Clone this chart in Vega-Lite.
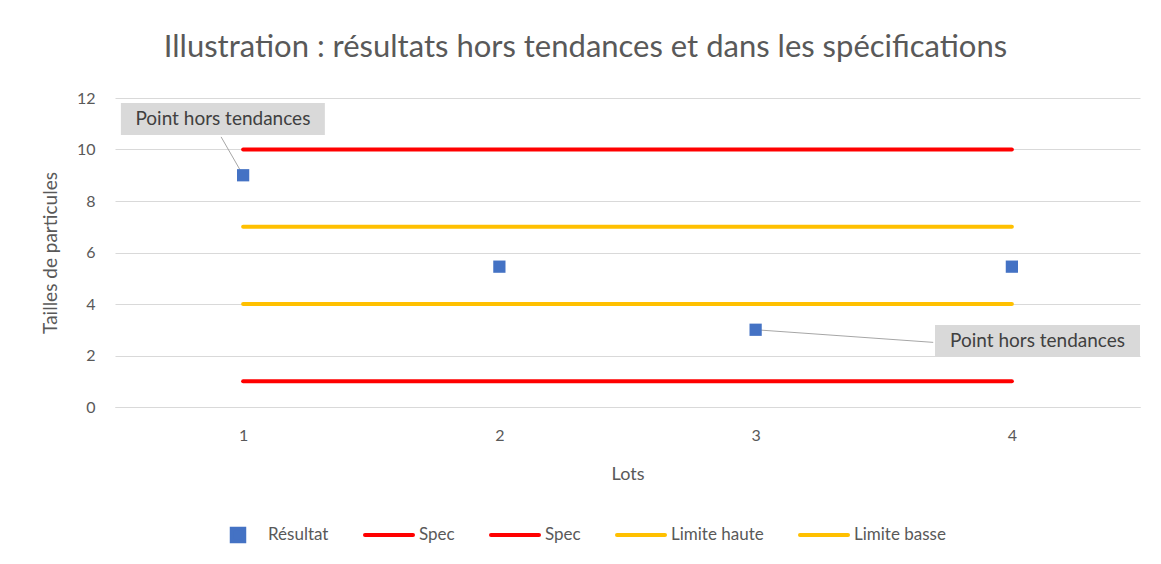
{
  "$schema": "https://vega.github.io/schema/vega-lite/v6.json",
  "width": 1025,
  "height": 309,
  "autosize": "none",
  "padding": {"left": 115, "top": 98, "right": 21, "bottom": 157},
  "background": "white",
  "title": {
    "text": "Illustration : résultats hors tendances et dans les spécifications",
    "font": "Lato",
    "fontSize": 31,
    "fontWeight": "normal",
    "color": "#595959",
    "anchor": "middle",
    "dx": -42,
    "offset": 26
  },
  "datasets": {
    "series": [
      {"lot": 1, "series": "Résultat", "value": 9},
      {"lot": 2, "series": "Résultat", "value": 5.45},
      {"lot": 3, "series": "Résultat", "value": 3},
      {"lot": 4, "series": "Résultat", "value": 5.45},
      {"lot": 1, "series": "Spec sup", "value": 10},
      {"lot": 2, "series": "Spec sup", "value": 10},
      {"lot": 3, "series": "Spec sup", "value": 10},
      {"lot": 4, "series": "Spec sup", "value": 10},
      {"lot": 1, "series": "Spec inf", "value": 1},
      {"lot": 2, "series": "Spec inf", "value": 1},
      {"lot": 3, "series": "Spec inf", "value": 1},
      {"lot": 4, "series": "Spec inf", "value": 1},
      {"lot": 1, "series": "Limite haute", "value": 7},
      {"lot": 2, "series": "Limite haute", "value": 7},
      {"lot": 3, "series": "Limite haute", "value": 7},
      {"lot": 4, "series": "Limite haute", "value": 7},
      {"lot": 1, "series": "Limite basse", "value": 4},
      {"lot": 2, "series": "Limite basse", "value": 4},
      {"lot": 3, "series": "Limite basse", "value": 4},
      {"lot": 4, "series": "Limite basse", "value": 4}
    ],
    "annotations": [
      {"label": "Point hors tendances", "bx1": 0.523, "bx2": 1.319, "by1": 10.56, "by2": 11.81, "tx": 0.921, "ty": 11.18, "lx1": 0.914, "ly1": 10.49, "lx2": 1.0, "ly2": 9.0},
      {"label": "Point hors tendances", "bx1": 3.70, "bx2": 4.5, "by1": 1.94, "by2": 3.18, "tx": 4.10, "ty": 2.56, "lx1": 3.0, "ly1": 3.0, "lx2": 3.693, "ly2": 2.51}
    ]
  },
  "layer": [
    {
      "data": {"name": "annotations"},
      "mark": {"type": "rect", "color": "#d9d9d9"},
      "encoding": {
        "x": {"field": "bx1", "type": "quantitative", "title": "Lots"},
        "x2": {"field": "bx2"},
        "y": {"field": "by1", "type": "quantitative", "title": "Tailles de particules"},
        "y2": {"field": "by2"}
      }
    },
    {
      "data": {"name": "annotations"},
      "mark": {"type": "rule", "color": "#a6a6a6", "strokeWidth": 1},
      "encoding": {
        "x": {"field": "lx1", "type": "quantitative", "title": "Lots"},
        "x2": {"field": "lx2"},
        "y": {"field": "ly1", "type": "quantitative", "title": "Tailles de particules"},
        "y2": {"field": "ly2"}
      }
    },
    {
      "data": {"name": "series"},
      "transform": [{"filter": "datum.series !== 'Résultat'"}],
      "mark": {"type": "line", "strokeWidth": 4, "strokeCap": "round"},
      "encoding": {
        "x": {
          "field": "lot", "type": "quantitative", "title": "Lots",
          "scale": {"domain": [0.5, 4.5], "nice": false, "zero": false},
          "axis": {"values": [1, 2, 3, 4], "format": "d", "grid": false, "ticks": false, "domain": true, "domainColor": "#d9d9d9", "labelFont": "Lato", "labelFontSize": 16, "labelColor": "#595959", "labelPadding": 20, "titleFont": "Lato", "titleFontSize": 18, "titleFontWeight": "normal", "titleColor": "#595959", "titlePadding": 22}
        },
        "y": {
          "field": "value", "type": "quantitative", "title": "Tailles de particules",
          "scale": {"domain": [0, 12], "nice": false},
          "axis": {"values": [0, 2, 4, 6, 8, 10, 12], "grid": true, "gridColor": "#d9d9d9", "ticks": false, "domain": false, "labelFont": "Lato", "labelFontSize": 16, "labelColor": "#595959", "labelPadding": 20, "titleFont": "Lato", "titleFontSize": 19, "titleFontWeight": "normal", "titleColor": "#595959", "titlePadding": 16}
        },
        "detail": {"field": "series"},
        "color": {
          "field": "series", "type": "nominal",
          "scale": {"domain": ["Résultat", "Spec sup", "Spec inf", "Limite haute", "Limite basse"], "range": ["#4472C4", "#FF0000", "#FF0000", "#FFC000", "#FFC000"]},
          "legend": {
            "orient": "none", "legendX": 97, "legendY": 411, "direction": "horizontal", "title": null,
            "gridAlign": "none",
            "labelExpr": "indexof(datum.label, 'Spec') === 0 ? 'Spec' : datum.label",
            "labelFont": "Lato", "labelFontSize": 17, "labelColor": "#595959",
            "symbolType": "stroke", "symbolSize": 2304, "symbolStrokeWidth": 4,
            "columnPadding": 28, "labelOffset": 4,
            "encode": {
              "symbols": {
                "update": {
                  "shape": {"signal": "datum.value === 'Résultat' ? 'M-0.26,-0.26H0.26V0.26H-0.26Z' : 'stroke'"},
                  "fill": {"signal": "datum.value === 'Résultat' ? '#4472C4' : 'transparent'"},
                  "stroke": {"signal": "datum.value === 'Résultat' ? 'transparent' : (indexof(datum.value, 'Spec') === 0 ? '#FF0000' : '#FFC000')"},
                  "strokeWidth": {"value": 4},
                  "strokeCap": {"value": "round"},
                  "opacity": {"value": 1}
                }
              }
            }
          }
        }
      }
    },
    {
      "data": {"name": "series"},
      "transform": [{"filter": "datum.series === 'Résultat'"}],
      "mark": {"type": "point", "shape": "square", "filled": true, "size": 150, "opacity": 1},
      "encoding": {
        "x": {"field": "lot", "type": "quantitative", "title": "Lots"},
        "y": {"field": "value", "type": "quantitative", "title": "Tailles de particules"},
        "color": {"field": "series", "type": "nominal"}
      }
    },
    {
      "data": {"name": "annotations"},
      "mark": {"type": "text", "font": "Lato", "fontSize": 19, "color": "#404040", "align": "center", "baseline": "middle"},
      "encoding": {
        "x": {"field": "tx", "type": "quantitative", "title": "Lots"},
        "y": {"field": "ty", "type": "quantitative", "title": "Tailles de particules"},
        "text": {"field": "label"}
      }
    }
  ],
  "config": {"view": {"stroke": null}}
}
